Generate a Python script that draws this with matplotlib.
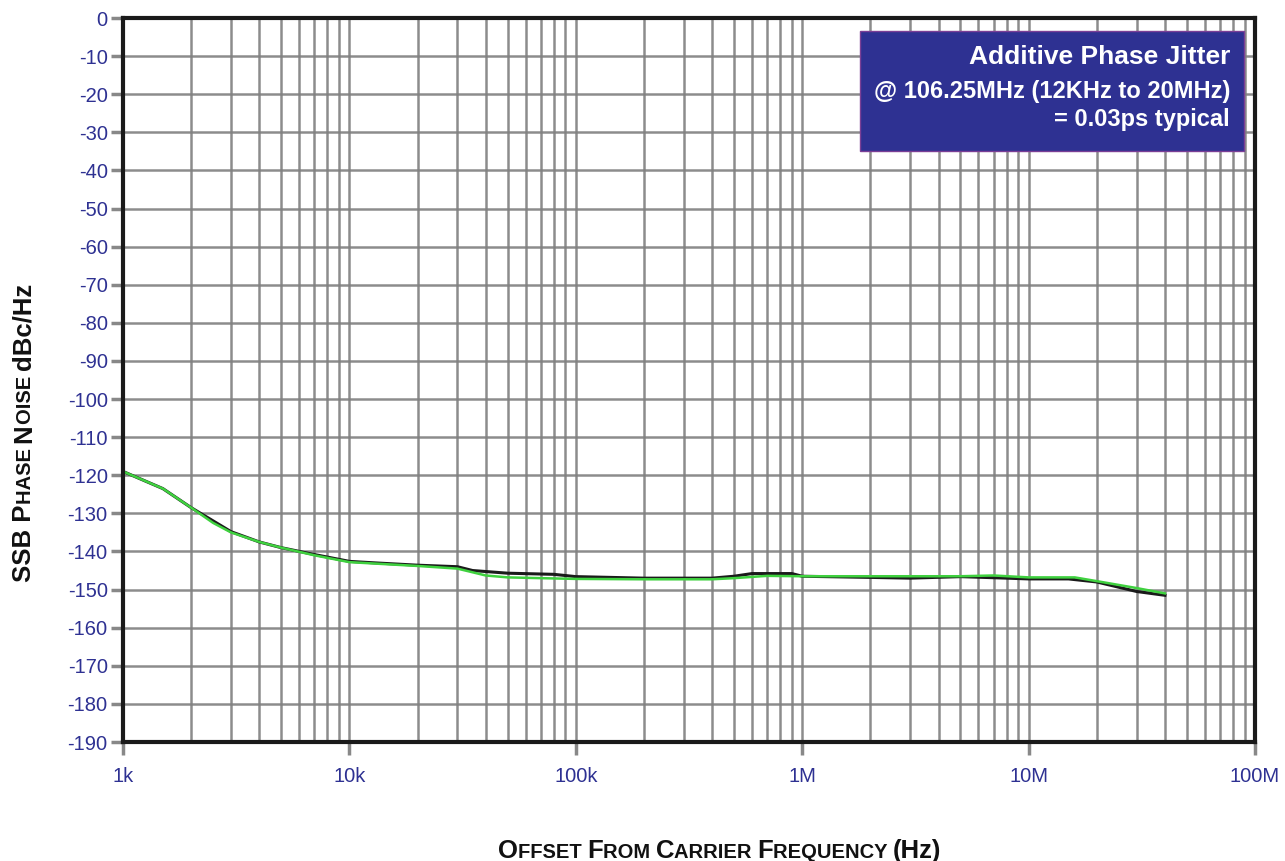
import matplotlib
matplotlib.use("Agg")
import matplotlib.pyplot as plt
from matplotlib.ticker import LogLocator, FixedLocator, NullFormatter
from matplotlib.patches import Rectangle

plt.rcParams['font.family'] = ['Liberation Sans', 'DejaVu Sans']

# green trace (offset frequency Hz, dBc/Hz)
green_f = [1e3, 1.5e3, 2e3, 2.5e3, 3e3, 4e3, 5e3, 7e3, 1e4, 2e4, 3e4, 4e4, 5e4, 7e4,
           1e5, 2e5, 4e5, 5e5, 7e5, 1e6, 2e6, 5e6, 7e6, 1e7, 1.6e7, 2.1e7, 3e7, 4e7]
green_db = [-119, -123.5, -128.5, -132.5, -135, -137.5, -139, -141, -142.8, -143.8, -144.5,
            -146.3, -146.8, -147, -147.2, -147.3, -147.3, -147, -146.4, -146.5, -146.5,
            -146.5, -146.3, -146.8, -146.8, -148, -149.6, -151]

# black trace
black_f = [1e3, 1.5e3, 2e3, 3e3, 4e3, 5e3, 7e3, 1e4, 1.3e4, 2e4, 3e4, 3.5e4, 5e4, 8e4,
           1e5, 2e5, 4e5, 5e5, 6e5, 9e5, 1e6, 2e6, 3e6, 5e6, 8e6, 1e7, 1.5e7, 2e7, 3e7, 4e7]
black_db = [-119, -123.5, -128.5, -134.8, -137.5, -139, -140.8, -142.6, -143, -143.6, -144,
            -145, -145.7, -146, -146.6, -147, -147, -146.5, -145.8, -145.8, -146.5, -146.8,
            -147, -146.6, -147, -147.2, -147.2, -148, -150.5, -151.5]

x_ticks = [1e3, 1e4, 1e5, 1e6, 1e7, 1e8]
x_labels = ['1k', '10k', '100k', '1M', '10M', '100M']
y_ticks = list(range(0, -200, -10))

blue = '#2e3192'
gridc = '#808080'

fig = plt.figure(figsize=(12.85, 8.61), dpi=100)
ax = fig.add_axes([123/1285, 1-742/861, 1132/1285, 724/861])
ax.set_xscale('log')
ax.set_xlim(1e3, 1e8)
ax.set_ylim(-190, 0)

ax.plot(black_f, black_db, color='#1a1a1a', lw=2.2, zorder=3)
ax.plot(green_f, green_db, color='#3fd13f', lw=1.8, zorder=4)

ax.xaxis.set_major_locator(FixedLocator(x_ticks))
ax.set_xticklabels(x_labels)
ax.xaxis.set_minor_locator(LogLocator(base=10, subs=range(2, 10)))
ax.xaxis.set_minor_formatter(NullFormatter())
ax.set_yticks(y_ticks)
ax.set_yticklabels([str(v) for v in y_ticks])

ax.grid(True, which='both', axis='x', color=gridc, lw=1.8, alpha=0.9, zorder=1)
ax.grid(True, which='major', axis='y', color=gridc, lw=1.8, alpha=0.9, zorder=1)
ax.set_axisbelow(True)

ax.tick_params(axis='both', which='major', direction='out', length=9, width=2.5,
               color='#888888', labelcolor=blue, labelsize=14.5)
ax.tick_params(axis='x', which='minor', length=0)
ax.tick_params(axis='x', pad=9)
ax.tick_params(axis='y', pad=2)

for s in ax.spines.values():
    s.set_linewidth(3)
    s.set_color('#1a1a1a')
    s.set_zorder(6)

# info box
ax.add_patch(Rectangle((0.651, 0.816), 0.339, 0.166, transform=ax.transAxes,
                       facecolor=blue, edgecolor='#7b3f96', lw=1, zorder=7))
ax.text(0.978, 0.946, 'Additive Phase Jitter', transform=ax.transAxes, ha='right',
        va='center', color='white', fontsize=19, fontweight='bold', zorder=8)
ax.text(0.978, 0.898, '@ 106.25MHz (12KHz to 20MHz)', transform=ax.transAxes, ha='right',
        va='center', color='white', fontsize=17, fontweight='bold', zorder=8)
ax.text(0.978, 0.860, '= 0.03ps typical', transform=ax.transAxes, ha='right',
        va='center', color='white', fontsize=17, fontweight='bold', zorder=8)


def small_caps(pieces, x, y, rot, big=18.5, small=14.5):
    # pieces: list of (text, is_big); draws left to right from (x, y) in pixels
    fig.canvas.draw()
    r = fig.canvas.get_renderer()
    pos = 0.0
    for txt, isbig in pieces:
        size = big if isbig else small
        t = fig.text(0, 0, txt, fontsize=size, fontweight='bold', color='#111111')
        w = t.get_window_extent(r).width
        t.remove()
        if rot == 0:
            fig.text((x + pos) / 1285, y / 861, txt, fontsize=size, fontweight='bold',
                     color='#111111', ha='left', va='baseline')
        else:
            fig.text(x / 1285, (y + pos) / 861, txt, fontsize=size, fontweight='bold',
                     color='#111111', rotation=90, rotation_mode='anchor',
                     ha='left', va='baseline')
        pos += w


xl = [('O', 1), ('FFSET ', 0), ('F', 1), ('ROM ', 0), ('C', 1), ('ARRIER ', 0),
      ('F', 1), ('REQUENCY ', 0), ('(Hz)', 1)]
small_caps(xl, 498, 861-858, 0)

yl = [('SSB P', 1), ('HASE ', 0), ('N', 1), ('OISE ', 0), ('dBc/Hz', 1)]
small_caps(yl, 31, 861-582, 90, big=18.5, small=14.5)

fig.savefig('out.png', dpi=100)
